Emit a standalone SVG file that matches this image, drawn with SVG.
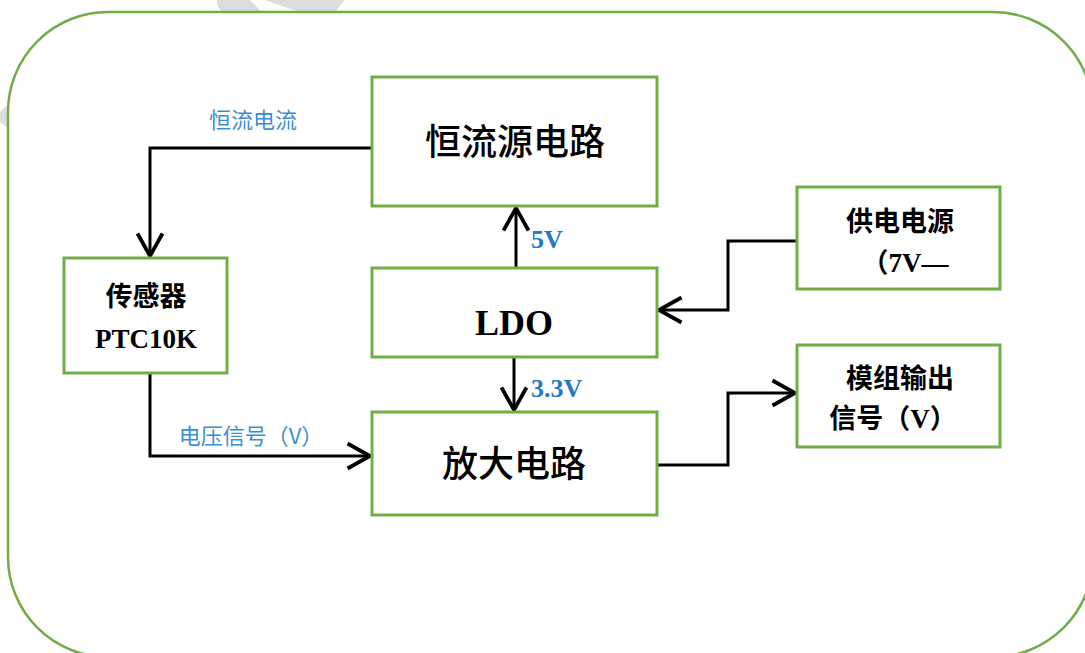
<svg xmlns="http://www.w3.org/2000/svg" width="1085" height="653" viewBox="0 0 1085 653">
<style>
.box{fill:#fff;stroke:#70AD47;stroke-width:3}
.conn{fill:none;stroke:#000;stroke-width:3}
.big{font-family:"Noto Sans CJK SC","Noto Sans",sans-serif;font-size:36px;font-weight:500;fill:#000;text-anchor:middle}
.mid{font-family:"Liberation Serif","Noto Sans CJK SC",serif;font-size:27px;font-weight:bold;fill:#000;text-anchor:middle}
.lbl{font-family:"Noto Sans CJK SC","Noto Sans",sans-serif;font-size:22px;fill:#3A8FD4;text-anchor:middle}
.volt{font-family:"Liberation Serif",serif;font-size:26px;font-weight:bold;fill:#1F78C8}
</style>
<defs>
<marker id="arr" markerUnits="userSpaceOnUse" markerWidth="30" markerHeight="30" viewBox="-20 -12 24 24" refX="0" refY="0" orient="auto">
<path d="M-18,-10 L0,0 L-18,10" fill="none" stroke="#000" stroke-width="3"/>
</marker>
</defs>
<rect width="1085" height="653" fill="#fff"/>
<g id="watermark" fill="#DDDDDD">
<path d="M217,0 L250,0 L262,12 L222,12 Q216,6 217,0 Z"/>
<path d="M264,0 L345,0 L335,12 L300,12 Z"/>
<path d="M0,112 L8,104 L8,128 L0,122 Z"/>
</g>
<rect id="frame" x="8" y="12" width="1085" height="645" rx="100" ry="100" fill="none" stroke="#70AD47" stroke-width="2.5"/>
<g id="connectors">
<polyline class="conn" points="372,148 150,148 150,256" marker-end="url(#arr)"/>
<polyline class="conn" points="150,373 150,456 370,456" marker-end="url(#arr)"/>
<line class="conn" x1="516" y1="268" x2="516" y2="208" marker-end="url(#arr)"/>
<line class="conn" x1="514" y1="357" x2="514" y2="410" marker-end="url(#arr)"/>
<polyline class="conn" points="797,241 728,241 728,310 659,310" marker-end="url(#arr)"/>
<polyline class="conn" points="657,465 728,465 728,393 795,393" marker-end="url(#arr)"/>
<text class="lbl" x="253" y="128">恒流电流</text>
<text class="lbl" x="251" y="444">电压信号（V）</text>
<text class="volt" x="531" y="248">5V</text>
<text class="volt" x="531" y="397" font-size="27">3.3V</text>
</g>
<g id="node-hengliuyuan">
<rect class="box" x="372" y="77" width="285" height="129"/>
<text class="big" x="515" y="155">恒流源电路</text>
</g>
<g id="node-ldo">
<rect class="box" x="372" y="268" width="285" height="89"/>
<text x="514" y="335" font-family="Liberation Serif,serif" font-size="36" font-weight="bold" text-anchor="middle">LDO</text>
</g>
<g id="node-fangda">
<rect class="box" x="372" y="412" width="285" height="103"/>
<text class="big" x="514" y="477">放大电路</text>
</g>
<g id="node-sensor">
<rect class="box" x="64" y="258" width="163" height="115"/>
<text class="mid" x="146" y="306">传感器</text>
<text class="mid" x="146" y="348" font-size="28">PTC10K</text>
</g>
<g id="node-supply">
<rect class="box" x="797" y="187" width="203" height="102"/>
<text class="mid" x="900" y="231">供电电源</text>
<text class="mid" x="905" y="272">（7V—</text>
</g>
<g id="node-output">
<rect class="box" x="797" y="345" width="203" height="102"/>
<text class="mid" x="900" y="388">模组输出</text>
<text class="mid" x="893" y="428">信号（V）</text>
</g>
</svg>
